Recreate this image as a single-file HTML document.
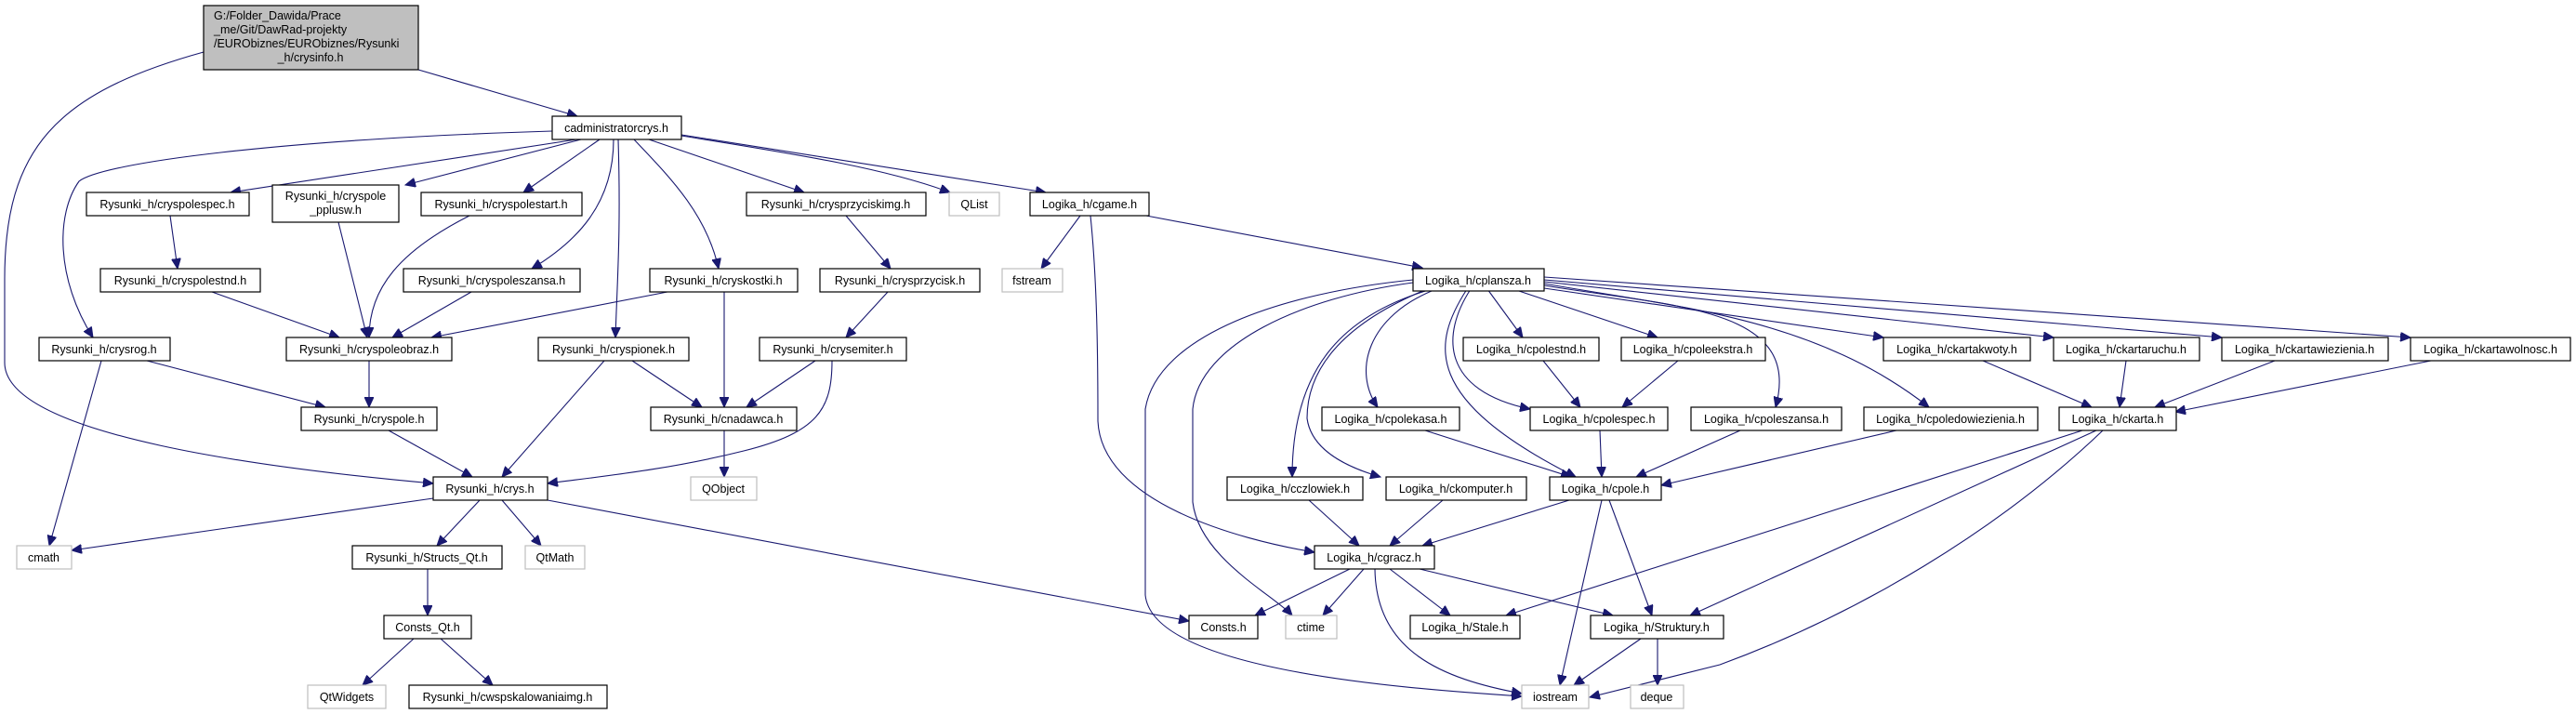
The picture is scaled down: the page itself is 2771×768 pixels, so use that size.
<!DOCTYPE html>
<html><head><meta charset="utf-8"><style>
html,body{margin:0;padding:0;background:#fff}
svg{display:block}
text{font-family:"Liberation Sans",sans-serif;font-size:12.5px;fill:#000}
.n{fill:#fff;stroke:#000;stroke-width:1.2}
.g{fill:#fff;stroke:#bfbfbf;stroke-width:1.2}
.e{fill:none;stroke:#191970;stroke-width:1.1}
</style></head><body>
<svg width="2771" height="768" viewBox="0 0 2771 768" xmlns="http://www.w3.org/2000/svg">
<defs><marker id="a" markerUnits="userSpaceOnUse" markerWidth="12" markerHeight="10" refX="11" refY="5" orient="auto"><path d="M0,0 L11,5 L0,10 Z" fill="#191970" stroke="#191970"/></marker></defs>
<g marker-end="url(#a)">
<path class="e" d="M450,75 L621,125"/>
<path class="e" d="M219,56 C60,100 5,160 5,300 L5,390 C5,470 300,505 466,520"/>
<path class="e" d="M620,150 L248,207"/>
<path class="e" d="M625,150 L436,199"/>
<path class="e" d="M645,150 L563,207"/>
<path class="e" d="M594,141 C300,150 110,175 85,195 C60,230 60,300 100,363"/>
<path class="e" d="M660,150 C660,220 620,260 572,289"/>
<path class="e" d="M665,150 C668,250 664,300 662,363"/>
<path class="e" d="M682,150 C720,190 760,230 773,289"/>
<path class="e" d="M698,150 L865,207"/>
<path class="e" d="M733,146 C850,165 950,180 1022,207"/>
<path class="e" d="M733,145 L1125,207"/>
<path class="e" d="M183,232 L191,289"/>
<path class="e" d="M364,239 L395,363"/>
<path class="e" d="M505,232 C430,270 397,310 397,363"/>
<path class="e" d="M228,314 L365,363"/>
<path class="e" d="M507,314 L422,363"/>
<path class="e" d="M718,314 L464,363"/>
<path class="e" d="M779,314 L779,438"/>
<path class="e" d="M158,388 L350,438"/>
<path class="e" d="M109,388 L53,587"/>
<path class="e" d="M397,388 L397,438"/>
<path class="e" d="M650,388 L540,513"/>
<path class="e" d="M680,388 L755,438"/>
<path class="e" d="M877,388 L803,438"/>
<path class="e" d="M895,388 C895,440 880,465 800,485 C720,505 650,512 589,520"/>
<path class="e" d="M910,232 L958,289"/>
<path class="e" d="M955,314 L910,363"/>
<path class="e" d="M779,463 L779,513"/>
<path class="e" d="M418,463 L508,513"/>
<path class="e" d="M466,536 L77,592"/>
<path class="e" d="M516,538 L470,587"/>
<path class="e" d="M540,538 L582,587"/>
<path class="e" d="M589,538 L1279,668"/>
<path class="e" d="M460,612 L460,662"/>
<path class="e" d="M445,687 L390,737"/>
<path class="e" d="M474,687 L530,737"/>
<path class="e" d="M1162,232 L1120,289"/>
<path class="e" d="M1173,232 C1180,300 1181,380 1181,453 C1185,540 1330,580 1414,594"/>
<path class="e" d="M1233,232 L1530,288"/>
<path class="e" d="M1520,301 C1380,315 1245,360 1232,440 L1232,640 C1240,720 1500,740 1637,749"/>
<path class="e" d="M1520,304 C1400,320 1290,370 1283,440 L1283,540 C1290,600 1370,640 1390,662"/>
<path class="e" d="M1540,311 C1440,340 1390,400 1390,513"/>
<path class="e" d="M1535,311 C1440,350 1406,400 1406,450 C1410,480 1440,500 1485,513"/>
<path class="e" d="M1545,311 C1470,340 1455,400 1482,438"/>
<path class="e" d="M1578,311 C1540,370 1530,430 1695,513"/>
<path class="e" d="M1582,311 C1550,360 1550,420 1646,440"/>
<path class="e" d="M1600,311 L1638,363"/>
<path class="e" d="M1628,311 L1783,363"/>
<path class="e" d="M1661,307 C1800,330 1940,330 1910,438"/>
<path class="e" d="M1661,305 C1800,330 1950,340 2075,438"/>
<path class="e" d="M1661,310 L2026,363"/>
<path class="e" d="M1661,303 L2209,363"/>
<path class="e" d="M1661,301 L2390,363"/>
<path class="e" d="M1661,298 L2593,363"/>
<path class="e" d="M1660,388 L1700,438"/>
<path class="e" d="M1805,388 L1745,438"/>
<path class="e" d="M1533,463 L1690,513"/>
<path class="e" d="M1721,463 L1723,513"/>
<path class="e" d="M1872,463 L1760,513"/>
<path class="e" d="M2040,463 L1787,522"/>
<path class="e" d="M2133,388 L2250,438"/>
<path class="e" d="M2287,388 L2280,438"/>
<path class="e" d="M2447,388 L2318,438"/>
<path class="e" d="M2615,388 L2340,443"/>
<path class="e" d="M2240,463 L1620,662"/>
<path class="e" d="M2255,463 L1818,662"/>
<path class="e" d="M2262,463 C2150,570 2000,660 1850,715 L1710,750"/>
<path class="e" d="M1408,538 L1462,587"/>
<path class="e" d="M1552,538 L1495,587"/>
<path class="e" d="M1688,538 L1530,587"/>
<path class="e" d="M1723,538 L1678,737"/>
<path class="e" d="M1731,538 L1777,662"/>
<path class="e" d="M1452,612 L1350,662"/>
<path class="e" d="M1467,612 L1423,662"/>
<path class="e" d="M1479,612 C1480,700 1550,730 1637,746"/>
<path class="e" d="M1495,612 L1560,662"/>
<path class="e" d="M1527,612 L1735,662"/>
<path class="e" d="M1765,687 L1693,737"/>
<path class="e" d="M1783,687 L1783,737"/>
</g>
<rect x="219" y="6" width="231" height="69" fill="#bfbfbf" stroke="#000" stroke-width="1.2"/>
<text x="230" y="21">G:/Folder_Dawida/Prace</text>
<text x="230" y="36">_me/Git/DawRad-projekty</text>
<text x="230" y="51">/EURObiznes/EURObiznes/Rysunki</text>
<text x="334" y="66" text-anchor="middle">_h/crysinfo.h</text>
<g text-anchor="middle">
<rect class="n" x="594" y="125" width="139" height="25"/><text x="663" y="142">cadministratorcrys.h</text>
<rect class="n" x="93" y="207" width="175" height="25"/><text x="180" y="224">Rysunki_h/cryspolespec.h</text>
<rect class="n" x="293" y="199" width="136" height="40"/><text x="361" y="215">Rysunki_h/cryspole</text><text x="361" y="230">_pplusw.h</text>
<rect class="n" x="453" y="207" width="173" height="25"/><text x="539" y="224">Rysunki_h/cryspolestart.h</text>
<rect class="n" x="803" y="207" width="193" height="25"/><text x="899" y="224">Rysunki_h/crysprzyciskimg.h</text>
<rect class="g" x="1021" y="207" width="54" height="25"/><text x="1048" y="224">QList</text>
<rect class="n" x="1108" y="207" width="128" height="25"/><text x="1172" y="224">Logika_h/cgame.h</text>
<rect class="n" x="108" y="289" width="172" height="25"/><text x="194" y="306">Rysunki_h/cryspolestnd.h</text>
<rect class="n" x="434" y="289" width="190" height="25"/><text x="529" y="306">Rysunki_h/cryspoleszansa.h</text>
<rect class="n" x="699" y="289" width="159" height="25"/><text x="778" y="306">Rysunki_h/cryskostki.h</text>
<rect class="n" x="882" y="289" width="172" height="25"/><text x="968" y="306">Rysunki_h/crysprzycisk.h</text>
<rect class="g" x="1078" y="289" width="65" height="25"/><text x="1110" y="306">fstream</text>
<rect class="n" x="1520" y="289" width="141" height="24"/><text x="1590" y="306">Logika_h/cplansza.h</text>
<rect class="n" x="42" y="363" width="141" height="25"/><text x="112" y="380">Rysunki_h/crysrog.h</text>
<rect class="n" x="308" y="363" width="178" height="25"/><text x="397" y="380">Rysunki_h/cryspoleobraz.h</text>
<rect class="n" x="579" y="363" width="162" height="25"/><text x="660" y="380">Rysunki_h/cryspionek.h</text>
<rect class="n" x="817" y="363" width="158" height="25"/><text x="896" y="380">Rysunki_h/crysemiter.h</text>
<rect class="n" x="1574" y="363" width="146" height="25"/><text x="1647" y="380">Logika_h/cpolestnd.h</text>
<rect class="n" x="1744" y="363" width="155" height="25"/><text x="1821" y="380">Logika_h/cpoleekstra.h</text>
<rect class="n" x="2026" y="363" width="158" height="25"/><text x="2105" y="380">Logika_h/ckartakwoty.h</text>
<rect class="n" x="2209" y="363" width="157" height="25"/><text x="2287" y="380">Logika_h/ckartaruchu.h</text>
<rect class="n" x="2390" y="363" width="179" height="25"/><text x="2479" y="380">Logika_h/ckartawiezienia.h</text>
<rect class="n" x="2593" y="363" width="172" height="25"/><text x="2679" y="380">Logika_h/ckartawolnosc.h</text>
<rect class="n" x="324" y="438" width="146" height="25"/><text x="397" y="455">Rysunki_h/cryspole.h</text>
<rect class="n" x="700" y="438" width="157" height="25"/><text x="778" y="455">Rysunki_h/cnadawca.h</text>
<rect class="n" x="1422" y="438" width="148" height="25"/><text x="1496" y="455">Logika_h/cpolekasa.h</text>
<rect class="n" x="1646" y="438" width="148" height="25"/><text x="1720" y="455">Logika_h/cpolespec.h</text>
<rect class="n" x="1819" y="438" width="162" height="25"/><text x="1900" y="455">Logika_h/cpoleszansa.h</text>
<rect class="n" x="2005" y="438" width="187" height="25"/><text x="2098" y="455">Logika_h/cpoledowiezienia.h</text>
<rect class="n" x="2215" y="438" width="126" height="25"/><text x="2278" y="455">Logika_h/ckarta.h</text>
<rect class="n" x="466" y="513" width="123" height="25"/><text x="527" y="530">Rysunki_h/crys.h</text>
<rect class="g" x="743" y="513" width="71" height="25"/><text x="778" y="530">QObject</text>
<rect class="n" x="1320" y="513" width="146" height="25"/><text x="1393" y="530">Logika_h/cczlowiek.h</text>
<rect class="n" x="1491" y="513" width="151" height="25"/><text x="1566" y="530">Logika_h/ckomputer.h</text>
<rect class="n" x="1667" y="513" width="120" height="25"/><text x="1727" y="530">Logika_h/cpole.h</text>
<rect class="g" x="18" y="587" width="59" height="25"/><text x="47" y="604">cmath</text>
<rect class="n" x="379" y="587" width="161" height="25"/><text x="459" y="604">Rysunki_h/Structs_Qt.h</text>
<rect class="g" x="565" y="587" width="64" height="25"/><text x="597" y="604">QtMath</text>
<rect class="n" x="1414" y="587" width="129" height="25"/><text x="1478" y="604">Logika_h/cgracz.h</text>
<rect class="n" x="413" y="662" width="94" height="25"/><text x="460" y="679">Consts_Qt.h</text>
<rect class="n" x="1279" y="662" width="74" height="25"/><text x="1316" y="679">Consts.h</text>
<rect class="g" x="1383" y="662" width="55" height="25"/><text x="1410" y="679">ctime</text>
<rect class="n" x="1517" y="662" width="118" height="25"/><text x="1576" y="679">Logika_h/Stale.h</text>
<rect class="n" x="1711" y="662" width="143" height="25"/><text x="1782" y="679">Logika_h/Struktury.h</text>
<rect class="g" x="331" y="737" width="84" height="25"/><text x="373" y="754">QtWidgets</text>
<rect class="n" x="440" y="737" width="213" height="25"/><text x="546" y="754">Rysunki_h/cwspskalowaniaimg.h</text>
<rect class="g" x="1637" y="737" width="72" height="25"/><text x="1673" y="754">iostream</text>
<rect class="g" x="1754" y="737" width="57" height="25"/><text x="1782" y="754">deque</text>
</g>
</svg>
</body></html>
